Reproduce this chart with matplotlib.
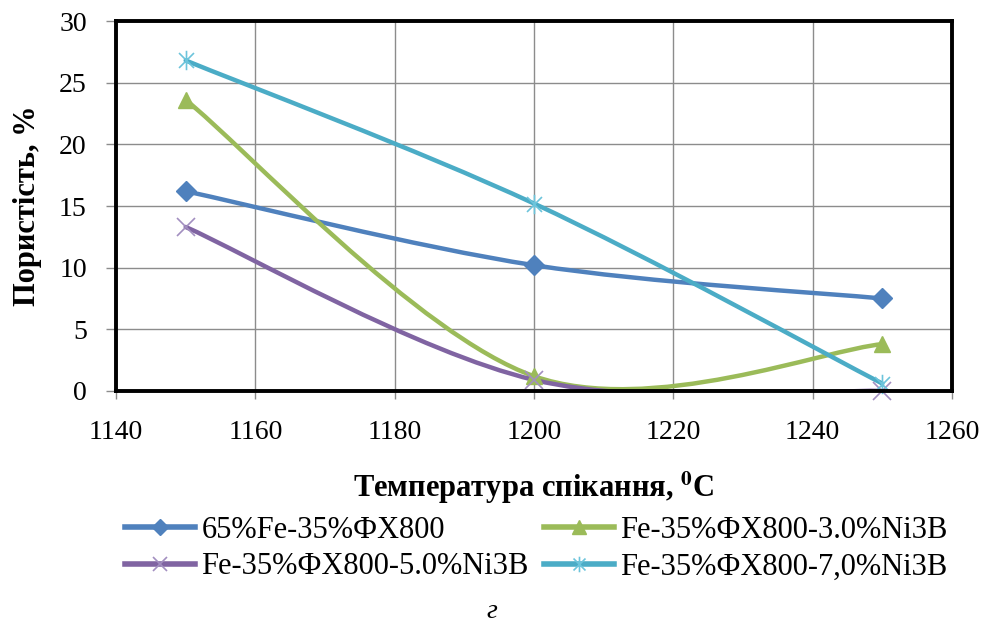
import numpy as np
import matplotlib
matplotlib.use('Agg')
import matplotlib.pyplot as plt
from matplotlib.path import Path
from matplotlib.patches import PathPatch
from matplotlib.lines import Line2D

# Дані
temperature = [1150, 1200, 1250]
series_names = ['65%Fe-35%ФХ800',
                'Fe-35%ФХ800-3.0%Ni3B',
                'Fe-35%ФХ800-5.0%Ni3B',
                'Fe-35%ФХ800-7,0%Ni3B']
por_base = [16.2, 10.2, 7.5]
por_3ni = [23.6, 1.2, 3.8]
por_5ni = [13.3, 0.9, 0.0]
por_7ni = [26.8, 15.2, 0.6]

colors = ['#4F81BD', '#9BBB59', '#8064A2', '#4BACC6']
marker_colors = ['#4F81BD', '#9BBB59', '#A28FC0', '#6CC4DB']

# маркер-зірочка як у Excel
star = Path([(-1, -1), (1, 1), (-1, 1), (1, -1), (0, -1.3), (0, 1.3)],
            [Path.MOVETO, Path.LINETO, Path.MOVETO, Path.LINETO, Path.MOVETO, Path.LINETO])
markers = ['D', '^', 'x', star]
msizes = [10, 12, 13, 14]
medgew = [1, 1, 1.2, 1.2]

plt.rcParams['font.family'] = ['Liberation Serif', 'DejaVu Serif']
plt.rcParams['mathtext.fontset'] = 'stix'


def smooth_path(xs, ys):
    # згладжування як у Excel (Catmull-Rom -> Bezier)
    pts = np.column_stack([xs, ys]).astype(float)
    ext = np.vstack([pts[0], pts, pts[-1]])
    verts = [pts[0]]
    codes = [Path.MOVETO]
    for i in range(len(pts) - 1):
        p0, p1, p2, p3 = ext[i], ext[i + 1], ext[i + 2], ext[i + 3]
        c1 = p1 + (p2 - p0) / 6.0
        c2 = p2 - (p3 - p1) / 6.0
        verts += [c1, c2, p2]
        codes += [Path.CURVE4] * 3
    return Path(verts, codes)


fig = plt.figure(figsize=(9.84, 6.27), dpi=100)
ax = fig.add_axes([0.1179, 0.3764, 0.8496, 0.5901])

all_series = [por_base, por_3ni, por_5ni, por_7ni]
handles = []
for vals, name, c, mc, m, ms, mew in zip(all_series, series_names, colors,
                                          marker_colors, markers, msizes, medgew):
    patch = PathPatch(smooth_path(temperature, vals), facecolor='none',
                      edgecolor=c, linewidth=3.2, zorder=3, capstyle='round')
    ax.add_patch(patch)
    ax.plot(temperature, vals, linestyle='none', marker=m, markersize=ms,
            color=mc, markeredgewidth=mew, zorder=4, clip_on=False)
    handles.append(Line2D([], [], color=c, linewidth=4, marker=m,
                          markersize=ms * 0.8, markerfacecolor=mc,
                          markeredgecolor=mc, markeredgewidth=mew))

ax.set_xlim(1140, 1260)
ax.set_ylim(0, 30)
ax.set_xticks(np.arange(1140, 1261, 20))
ax.set_yticks(np.arange(0, 31, 5))
ax.grid(True, color='#8c8c8c', linewidth=1.0)
ax.set_axisbelow(True)
for s in ax.spines.values():
    s.set_linewidth(2.8)
    s.set_color('black')
    s.set_zorder(5)
ax.tick_params(axis='x', direction='out', length=6, width=1, color='#8c8c8c',
               labelsize=20, pad=15)
ax.tick_params(axis='y', direction='out', length=7, width=1, color='#8c8c8c',
               labelsize=20, pad=14)

ax.set_ylabel('Пористість, %', fontsize=22, fontweight='bold', labelpad=12)
fig.text(0.542, 0.223, 'Температура спікання, $^{\\mathbf{0}}$C', fontsize=22,
         fontweight='bold', ha='center', va='center')

order = [0, 2, 1, 3]
fig.legend([handles[i] for i in order], [series_names[i] for i in order],
           ncol=2, loc='center', bbox_to_anchor=(0.545, 0.125), frameon=False,
           fontsize=22, handlelength=2.3, handletextpad=0.2, columnspacing=0.5,
           labelspacing=0.25)

fig.text(0.5, 0.025, 'г', fontsize=20, style='italic', ha='center', va='center')

fig.savefig('out.png', dpi=100)
